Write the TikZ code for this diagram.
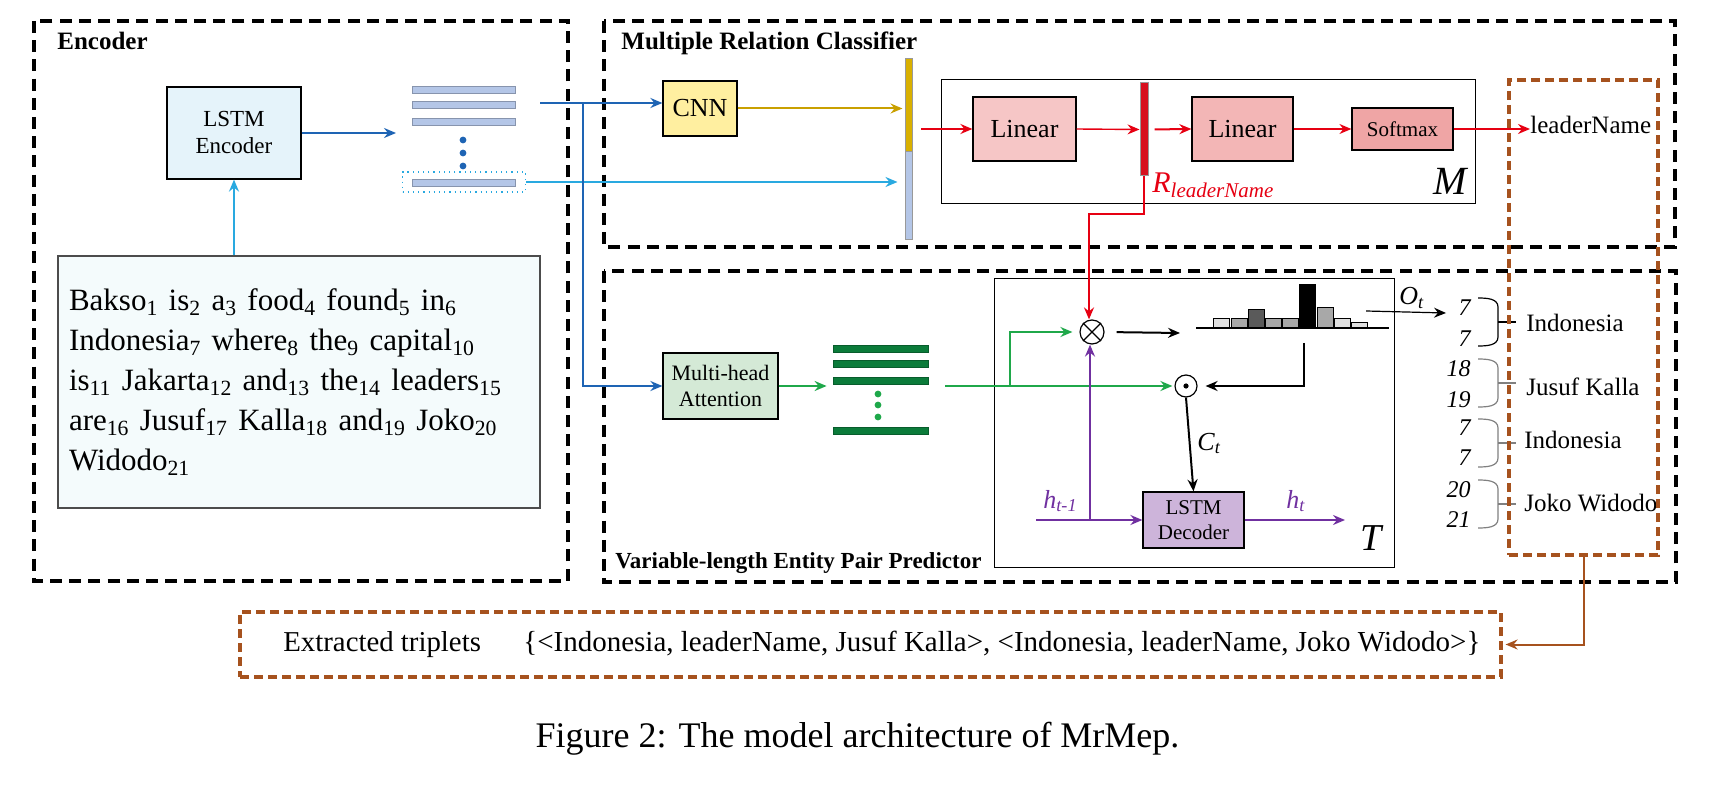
\documentclass[tikz,border=0pt]{standalone}
\usepackage{fontspec}
\setmainfont{Liberation Serif}
\usepackage{xcolor}
\usepackage{tikz}
\usetikzlibrary{arrows.meta,positioning,calc}
\definecolor{cBlue}{HTML}{1E64B4}
\definecolor{cSky}{HTML}{29A9E0}
\definecolor{cGold}{HTML}{C9A000}
\definecolor{cGoldBar}{HTML}{D9B000}
\definecolor{cRed}{HTML}{E60012}
\definecolor{cRedBar}{HTML}{D7101E}
\definecolor{cGreen}{HTML}{1FA84A}
\definecolor{cForest}{HTML}{0B7B3A}
\definecolor{cPurple}{HTML}{7030A0}
\definecolor{cBrown}{HTML}{A6521E}
\definecolor{cSteel}{HTML}{B4C6E7}
\definecolor{cEncFill}{HTML}{E5F3FA}
\definecolor{cSentFill}{HTML}{F4FBFC}
\definecolor{cCnnFill}{HTML}{FFEFA0}
\definecolor{cLinFill}{HTML}{F6C6C6}
\definecolor{cLinFillB}{HTML}{F3B6B6}
\definecolor{cSoftFill}{HTML}{EFA5A5}
\definecolor{cAttnFill}{HTML}{D4E9D6}
\definecolor{cDecFill}{HTML}{CDB4DA}
\definecolor{cHistL}{HTML}{E0E0E0}
\definecolor{cHistM}{HTML}{A8A8A8}
\definecolor{cHistD}{HTML}{5A5A5A}
\tikzset{
  secframe/.style={line width=1.9pt,dash pattern=on 6pt off 3.6pt},
  bframe/.style={draw=cBrown,line width=1.6pt,dash pattern=on 4.5pt off 2.5pt},
  mbox/.style={draw=black,fill=#1,line width=0.6pt,align=center,inner sep=1pt},
  vbar/.style={draw=black!40,fill=#1,line width=0.5pt,inner sep=0pt,minimum width=3.5pt},
  hbar/.style={draw=#1!75!black,fill=#1,line width=0.4pt,inner sep=0pt,minimum height=3.6pt},
  sdot/.style={circle,fill=#1,inner sep=0pt,minimum size=3.4pt},
  opnode/.style={circle,draw=black,line width=0.6pt,fill=white,inner sep=0pt,minimum size=#1},
  arr/.style={-{Stealth[length=6pt,width=5pt,inset=2pt]},line width=1pt,draw=#1},
  arr/.default=black,
  ttl/.style={font=\bfseries\fontsize{12.5}{14}\selectfont,anchor=base west,inner sep=0pt},
  lbl/.style={font=\fontsize{12.5}{14}\selectfont,anchor=base west,inner sep=0pt},
  num/.style={font=\itshape\fontsize{12}{14}\selectfont,anchor=base east,inner sep=0pt},
  sym/.style={font=\itshape\fontsize{13}{15}\selectfont,anchor=base west,inner sep=0pt},
}
\begin{document}
\begin{tikzpicture}[x=0.5pt,y=-0.5pt]
  \useasboundingbox (0,0) rectangle (1719,786);
  \draw[secframe] (34,21) rectangle (568,581);
  \draw[secframe] (604,21) rectangle (1675,247);
  \draw[secframe] (604,271) rectangle (1676,582);
  \node[ttl] (tEnc) at (57,50) {Encoder};
  \node[ttl] (tMrc) at (621,50) {Multiple Relation Classifier};
  \node[ttl,font=\bfseries\fontsize{11.5}{13}\selectfont] (tVep) at (615,568) {Variable-length Entity Pair Predictor};

  % encoder
  \node[mbox=cEncFill,minimum width=67pt,minimum height=46pt,font=\fontsize{11.5}{13.5}\selectfont] (lstmenc) at (234,133) {LSTM\\Encoder};
  \node[draw=black!70,fill=cSentFill,line width=0.6pt,minimum width=241pt,minimum height=126pt,text width=230pt,inner sep=5.5pt,align=left,font=\fontsize{15.5}{20}\selectfont] (sent) at (299,382)
    {Bakso\textsubscript{1} is\textsubscript{2} a\textsubscript{3} food\textsubscript{4} found\textsubscript{5} in\textsubscript{6}\\
     Indonesia\textsubscript{7} where\textsubscript{8} the\textsubscript{9} capital\textsubscript{10}\\
     is\textsubscript{11} Jakarta\textsubscript{12} and\textsubscript{13} the\textsubscript{14} leaders\textsubscript{15}\\
     are\textsubscript{16} Jusuf\textsubscript{17} Kalla\textsubscript{18} and\textsubscript{19} Joko\textsubscript{20}\\
     Widodo\textsubscript{21}};
  \node[hbar=cSteel,minimum width=51.5pt] (eb1) at (463.5,90) {};
  \node[hbar=cSteel,minimum width=51.5pt] (eb2) at (463.5,105) {};
  \node[hbar=cSteel,minimum width=51.5pt] (eb3) at (463.5,122) {};
  \node[sdot=cBlue] (ed1) at (463,140) {}; \node[sdot=cBlue] (ed2) at (463,153) {}; \node[sdot=cBlue] (ed3) at (463,166) {};
  \node[draw=cSky,dotted,line width=0.6pt,minimum width=61.5pt,minimum height=10pt,inner sep=0pt] (elast) at (464,182) {};
  \node[hbar=cSteel,minimum width=51.5pt] (eb4) at (463.5,183) {};
  \coordinate (eOut) at (396,133);
  \draw[arr=cBlue,line width=1.2pt] (lstmenc.east) -- (eOut);
  \draw[arr=cSky] (lstmenc.south |- sent.north) -- (lstmenc.south);

  % relation classifier
  \node[mbox=cCnnFill,minimum width=37pt,minimum height=27.5pt,font=\fontsize{13}{15}\selectfont] (cnn) at (700,108.5) {CNN};
  \node[vbar=cGoldBar,minimum height=46.5pt] (catT) at (908.5,105.5) {};
  \node[vbar=cSteel,minimum height=44pt] (catB) at (908.5,196) {};
  \draw[line width=0.5pt] (941,80) rectangle (1475,204);
  \node[mbox=cLinFill,minimum width=51.5pt,minimum height=32pt,font=\fontsize{13}{15}\selectfont] (linA) at (1024.5,129) {Linear};
  \node[vbar=cRedBar,minimum width=4pt,minimum height=46.5pt] (rbar) at (1144,129.5) {};
  \node[mbox=cLinFillB,minimum width=50.5pt,minimum height=32pt,font=\fontsize{13}{15}\selectfont] (linB) at (1242.5,129) {Linear};
  \node[mbox=cSoftFill,minimum width=50.5pt,minimum height=21pt,font=\fontsize{10.5}{12}\selectfont] (soft) at (1402.5,129) {Softmax};
  \node[lbl] (leader) at (1530,134) {leaderName};
  \node[lbl,text=cRed,font=\itshape\fontsize{15}{17}\selectfont] (rLab) at (1152,193) {R\textsubscript{leaderName}};
  \node[lbl,font=\itshape\fontsize{20}{22}\selectfont] (mLab) at (1433,195) {M};
  \coordinate (bS) at (540,103);
  \coordinate (bJ) at (583,103);
  \coordinate (rS) at (921,129);
  \draw[arr=cBlue,line width=1.2pt] (bS) -- (bS -| cnn.west);
  \draw[arr=cSky,shorten >=3.5pt] (elast.east) -- (elast.east -| catB.west);
  \draw[arr=cGold,shorten >=1pt] (cnn.east) -- (cnn.east -| catT.west);
  \draw[arr=cRed] (rS) -- (linA.west);
  \draw[arr=cRed,line width=0.7pt] (linA.east) -- (rbar.west);
  \draw[arr=cRed,shorten <=3pt] (rbar.east) -- (linB.west);
  \draw[arr=cRed,line width=0.7pt] (linB.east) -- (soft.west);
  \draw[arr=cRed] (soft.east) -- (soft.east -| leader.west);

  % entity pair predictor
  \node[mbox=cAttnFill,minimum width=57.5pt,minimum height=33pt,font=\fontsize{11}{13.3}\selectfont] (attn) at (720.5,386) {Multi-head\\Attention};
  \node[hbar=cForest,minimum width=47.5pt] (ab1) at (880.5,349) {};
  \node[hbar=cForest,minimum width=47.5pt] (ab2) at (880.5,364) {};
  \node[hbar=cForest,minimum width=47.5pt] (ab3) at (880.5,381) {};
  \node[sdot=cGreen] (ad1) at (878,394) {}; \node[sdot=cGreen] (ad2) at (878,405) {}; \node[sdot=cGreen] (ad3) at (878,417) {};
  \node[hbar=cForest,minimum width=47.5pt] (ab4) at (880.5,431) {};
  \draw[arr=cBlue,line width=1.2pt] (bJ) |- (attn.west);
  \draw[line width=0.5pt] (994,279) rectangle (1394,567);
  \node[opnode=12pt] (mul) at (1092,332) {};
  \draw[line width=0.6pt] (mul.north west) -- (mul.south east) (mul.north east) -- (mul.south west);
  \node[opnode=11pt] (had) at (1186,386) {};
  \node[sdot=black,minimum size=2.6pt] (hadc) at (had) {};
  \node[mbox=cDecFill,minimum width=50.5pt,minimum height=28pt,font=\fontsize{10.5}{12.7}\selectfont] (lstmdec) at (1193.5,520) {LSTM\\Decoder};
  \draw[line width=0.6pt] (1196,328) -- (1389,328);
  \foreach \bx/\bt/\bc in {1213/319/cHistL,1231/319/cHistM,1248/310/cHistD,1265/319/cHistM,1282/319/cHistM,1299/285/black,1317/308/cHistM,1334/319/cHistL,1351/323/cHistL}
    \draw[fill=\bc,line width=0.5pt] (\bx,328) rectangle (\bx+16,\bt);
  \node[sym,text=cPurple] (hPrev) at (1043,508) {h\textsubscript{t-1}};
  \node[sym,text=cPurple] (hNow) at (1286,508) {h\textsubscript{t}};
  \node[sym] (cLab) at (1197,450) {C\textsubscript{t}};
  \node[sym] (oLab) at (1399,305) {O\textsubscript{t}};
  \node[lbl,font=\itshape\fontsize{19}{21}\selectfont] (tLab) at (1360,550) {T};
  \coordinate (gS) at (945,386);
  \coordinate (gJ) at (1010,386);
  \coordinate (hIn) at (1180,333);
  \coordinate (hOut) at (1304,343);
  \coordinate (pS) at (1036,520);
  \coordinate (pJ) at (1090,520);
  \coordinate (pE) at (1345,520);
  \coordinate (oS) at (1366,311);
  \coordinate (oE) at (1446,313);
  \draw[arr=cGreen,shorten >=3pt] (attn.east) -- (attn.east -| ab1.west);
  \draw[arr=cGreen,shorten >=1pt] (gS) -- (had.west);
  \draw[arr=cGreen,shorten >=3.5pt] (gJ) |- (mul.west);
  \draw[arr=cRed] (rbar.south) -- ++(0,38) -| ([xshift=-1.5pt]mul.north);
  \draw[arr,shorten <=6pt] (mul.east) -- (hIn);
  \draw[arr,shorten >=4pt] (hOut) |- (had.east);
  \draw[arr] (had.south) -- (lstmdec.north);
  \draw[arr=cPurple] (pS) -- (lstmdec.west);
  \draw[arr=cPurple] (pJ) -- (pJ |- mul.south);
  \draw[arr=cPurple] (lstmdec.east) -- (pE);
  \draw[arr,line width=0.6pt] (oS) -- (oE);

  % output pairs
  \node[num] (n1) at (1471,315) {7};  \node[num] (n2) at (1471,346) {7};
  \node[num] (n3) at (1471,377) {18}; \node[num] (n4) at (1471,407) {19};
  \node[num] (n5) at (1471,435) {7};  \node[num] (n6) at (1471,465) {7};
  \node[num] (n7) at (1471,497) {20}; \node[num] (n8) at (1471,527) {21};
  \foreach \cy/\bc in {322/black,383/black!50,443/black!50,504/black!50} {
    \draw[\bc,line width=0.6pt] (1478,\cy-24) to[out=0,in=90] (1498,\cy-15) -- (1498,\cy+15) to[out=-90,in=0] (1478,\cy+24);
    \draw[\bc,line width=0.6pt] (1498,\cy) -- (1516,\cy);
  }
  \node[lbl] (e1) at (1526,331) {Indonesia};
  \node[lbl] (e2) at (1526,395) {Jusuf Kalla};
  \node[lbl] (e3) at (1524,448) {Indonesia};
  \node[lbl] (e4) at (1524,511) {Joko Widodo};
  \node[bframe,minimum width=74.5pt,minimum height=237.5pt,inner sep=0pt] (rbox) at (1583.5,317.5) {};

  % triplets
  \node[bframe,minimum width=630.5pt,minimum height=32.5pt,inner sep=0pt] (trip) at (870.5,644.5) {};
  \node[lbl,font=\fontsize{14.4}{16}\selectfont] (tripA) at (283,651) {Extracted triplets};
  \node[lbl,font=\fontsize{14.5}{16}\selectfont] (tripB) at (523,651) {\{<Indonesia, leaderName, Jusuf Kalla>, <Indonesia, leaderName, Joko Widodo>\}};
  \draw[arr=cBrown,shorten >=1.5pt] (rbox.south) |- (trip.east);
  \node[font=\fontsize{18}{20}\selectfont,anchor=base,inner sep=0pt] (cap) at (857.5,747) {Figure 2: The model architecture of MrMep.};
\end{tikzpicture}
\end{document}
